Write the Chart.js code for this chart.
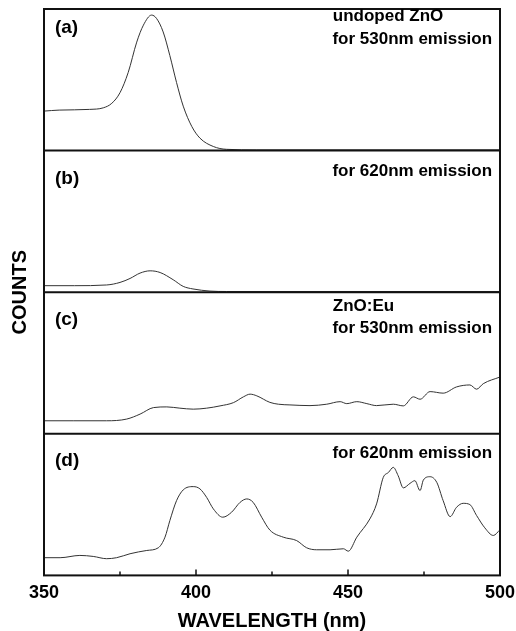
<!DOCTYPE html>
<html>
<head>
<meta charset="utf-8">
<script src="https://cdn.jsdelivr.net/npm/chart.js@4.4.1/dist/chart.umd.min.js"></script>
<style>
  html, body { margin: 0; padding: 0; background: #fff; }
  #wrap { width: 516px; height: 631px; position: relative; }
</style>
</head>
<body>
<div id="wrap"><canvas id="myChart"></canvas></div>
<script>
// (a) undoped ZnO, 530nm emission
const waveA = [350, 355, 365, 369.5, 372.3, 375, 377.7, 380.5, 382.7, 385.4, 387, 389.2, 391.4, 393.6, 395.8, 398.6, 401.3, 405.7, 410, 420, 500];
const countsA = [27.9, 28.6, 29.1, 30.2, 33.4, 40.9, 55.2, 76.6, 88.6, 95.7, 93.4, 83.8, 67.1, 48.1, 31.4, 17.1, 8.8, 2.9, 0.9, 0.5, 0.5];

// (b) undoped ZnO, 620nm emission
const waveB = [350, 360, 370.6, 375, 378.3, 381.6, 384.9, 388.2, 392.5, 395.8, 399, 404.6, 410, 500];
const countsB = [4.6, 4.6, 5.1, 6.9, 9.7, 13.5, 15.1, 13.9, 8.8, 4.1, 2.3, 0.8, 0.5, 0.5];

// (c) ZnO:Eu, 530nm emission
const waveC = [350, 359.6, 370.6, 377.2, 381.6, 386, 390.4, 394.7, 399.1, 403.5, 407.9, 412.3, 415.6, 417.8, 420, 424.3, 427.1, 430.9, 437.5, 443, 447.4, 449.6, 452.9, 456.2, 459.4, 464.9, 468.2, 471.5, 473.7, 477, 481.3, 485.7, 490.1, 492.3, 494.5, 500];
const countsC = [9.2, 9.2, 9.2, 10.4, 13.9, 18.5, 19.0, 18.1, 17.4, 18.1, 19.7, 22.0, 26.1, 28.0, 26.8, 22.2, 20.9, 20.4, 19.9, 20.9, 22.7, 21.3, 22.7, 21.3, 19.9, 20.9, 19.7, 26.1, 24.4, 29.8, 28.7, 33.1, 34.5, 31.5, 35.4, 40.1];

// (d) ZnO:Eu, 620nm emission
const waveD = [350, 355.3, 361.8, 366.2, 370.6, 373.9, 378.3, 383.8, 387.6, 389.8, 391.4, 393.6, 395.8, 399.1, 401.3, 403.5, 405.7, 408.8, 411.7, 414.5, 416.7, 418.8, 421.6, 424.3, 428.7, 433.1, 436.4, 439.7, 444.1, 448.5, 450.1, 452.9, 457.2, 459.4, 461.6, 463.3, 464.9, 466.5, 468.2, 470.4, 472, 473.7, 474.8, 477, 479.2, 481.3, 483.6, 485.7, 487.9, 490.1, 492.3, 495, 497.8, 500];
const countsD = [12.5, 12.5, 14.1, 13.4, 11.8, 12.5, 15.3, 17.6, 19.5, 27.0, 38.7, 52.8, 60.4, 62.7, 61.1, 55.1, 47.0, 41.1, 44.6, 51.6, 54.0, 51.6, 41.1, 32.0, 27.0, 24.6, 19.5, 18.1, 18.1, 18.8, 17.1, 27.0, 39.9, 50.5, 69.2, 72.7, 76.3, 70.4, 61.8, 65.0, 66.9, 59.9, 67.4, 69.7, 65.7, 52.8, 41.5, 48.1, 50.9, 50.0, 42.3, 33.6, 28.2, 32.2];

const panelIds = ['ya', 'yb', 'yc', 'yd'];
const xTickLabels = [350, 400, 450, 500];

// panel annotations: text, panel axis, wavelength, panel value, alignment
const notes = [
    { text: '(a)', axis: 'ya', x: 353.6, y: 86.6, align: 'left', big: true },
    { text: 'undoped ZnO', axis: 'ya', x: 445, y: 95, align: 'left' },
    { text: 'for 530nm emission', axis: 'ya', x: 497.4, y: 78.8, align: 'right' },
    { text: '(b)', axis: 'yb', x: 353.6, y: 80.2, align: 'left', big: true },
    { text: 'for 620nm emission', axis: 'yb', x: 497.4, y: 85.2, align: 'right' },
    { text: '(c)', axis: 'yc', x: 353.6, y: 80.6, align: 'left', big: true },
    { text: 'ZnO:Eu', axis: 'yc', x: 445, y: 89.8, align: 'left' },
    { text: 'for 530nm emission', axis: 'yc', x: 497.4, y: 74.2, align: 'right' },
    { text: '(d)', axis: 'yd', x: 353.6, y: 80.9, align: 'left', big: true },
    { text: 'for 620nm emission', axis: 'yd', x: 497.4, y: 85.9, align: 'right' }
];

const FONT = "'Liberation Sans', Arial, sans-serif";

function toPoints(xs, ys) {
    return xs.map((x, i) => ({ x: x, y: ys[i] }));
}

function makeDataset(label, xs, ys, axis) {
    return {
        label: label,
        data: toPoints(xs, ys),
        yAxisID: axis,
        borderColor: '#333',
        borderWidth: 1,
        pointRadius: 0,
        fill: false,
        cubicInterpolationMode: 'monotone'
    };
}

function panelAxis() {
    return {
        type: 'linear',
        position: 'left',
        stack: 'panels',
        stackWeight: 1,
        min: 0,
        max: 100,
        ticks: { display: false },
        grid: { display: false, drawTicks: false },
        border: { display: false }
    };
}

const framePlugin = {
    id: 'frame',
    afterDraw(chart) {
        const { ctx, chartArea: a, scales } = chart;
        ctx.save();
        ctx.strokeStyle = '#111';
        ctx.lineWidth = 2;
        ctx.strokeRect(a.left, a.top, a.right - a.left, a.bottom - a.top);
        // separators between the panels
        for (const id of panelIds.slice(0, 3)) {
            const y = scales[id].bottom;
            ctx.beginPath();
            ctx.moveTo(a.left, y);
            ctx.lineTo(a.right, y);
            ctx.stroke();
        }
        // inward ticks on the wavelength axis
        const xs = scales.x;
        ctx.lineWidth = 1.5;
        for (const t of xs.ticks) {
            const px = xs.getPixelForValue(t.value);
            const len = t.value % 50 === 0 ? 6 : 4;
            ctx.beginPath();
            ctx.moveTo(px, a.bottom);
            ctx.lineTo(px, a.bottom - len);
            ctx.stroke();
        }
        // panel labels
        ctx.fillStyle = '#000';
        ctx.textBaseline = 'middle';
        for (const n of notes) {
            ctx.font = 'bold ' + (n.big ? 19 : 17) + 'px ' + FONT;
            ctx.textAlign = n.align;
            ctx.fillText(n.text, xs.getPixelForValue(n.x), scales[n.axis].getPixelForValue(n.y));
        }
        // shared y title
        ctx.font = 'bold 20px ' + FONT;
        ctx.textAlign = 'center';
        ctx.translate(20, (a.top + a.bottom) / 2);
        ctx.rotate(-Math.PI / 2);
        ctx.fillText('COUNTS', 0, 0);
        ctx.restore();
    }
};

function createChart() {
    const cfg = {
        type: 'line',
        data: {
            datasets: [
                makeDataset('(a)', waveA, countsA, 'ya'),
                makeDataset('(b)', waveB, countsB, 'yb'),
                makeDataset('(c)', waveC, countsC, 'yc'),
                makeDataset('(d)', waveD, countsD, 'yd')
            ]
        },
        options: {
            responsive: true,
            maintainAspectRatio: false,
            animation: false,
            layout: { padding: { top: 9, left: 44, right: 16, bottom: 0 } },
            plugins: {
                legend: { display: false },
                tooltip: { enabled: false }
            },
            scales: {
                x: {
                    type: 'linear',
                    min: 350,
                    max: 500,
                    grid: { display: false, drawTicks: false },
                    border: { display: false },
                    afterFit: function (scale) {
                        // the "500" label may run to the canvas edge
                        scale.paddingRight = 0;
                        scale.paddingLeft = 0;
                    },
                    ticks: {
                        stepSize: 25,
                        autoSkip: false,
                        maxRotation: 0,
                        padding: 7,
                        color: '#000',
                        font: { family: FONT, size: 18, weight: 'bold' },
                        callback: function (v) {
                            return xTickLabels.includes(v) ? String(v) : '';
                        }
                    },
                    title: {
                        display: true,
                        text: 'WAVELENGTH (nm)',
                        color: '#000',
                        font: { family: FONT, size: 20, weight: 'bold', lineHeight: 1.0 },
                        padding: { top: 0, bottom: 0 }
                    }
                },
                // defined bottom-up: the last left axis ends up on top of the stack
                yd: panelAxis(),
                yc: panelAxis(),
                yb: panelAxis(),
                ya: panelAxis()
            }
        },
        plugins: [framePlugin]
    };
    return new Chart(document.getElementById('myChart'), cfg);
}

const chart = createChart();
</script>
</body>
</html>
